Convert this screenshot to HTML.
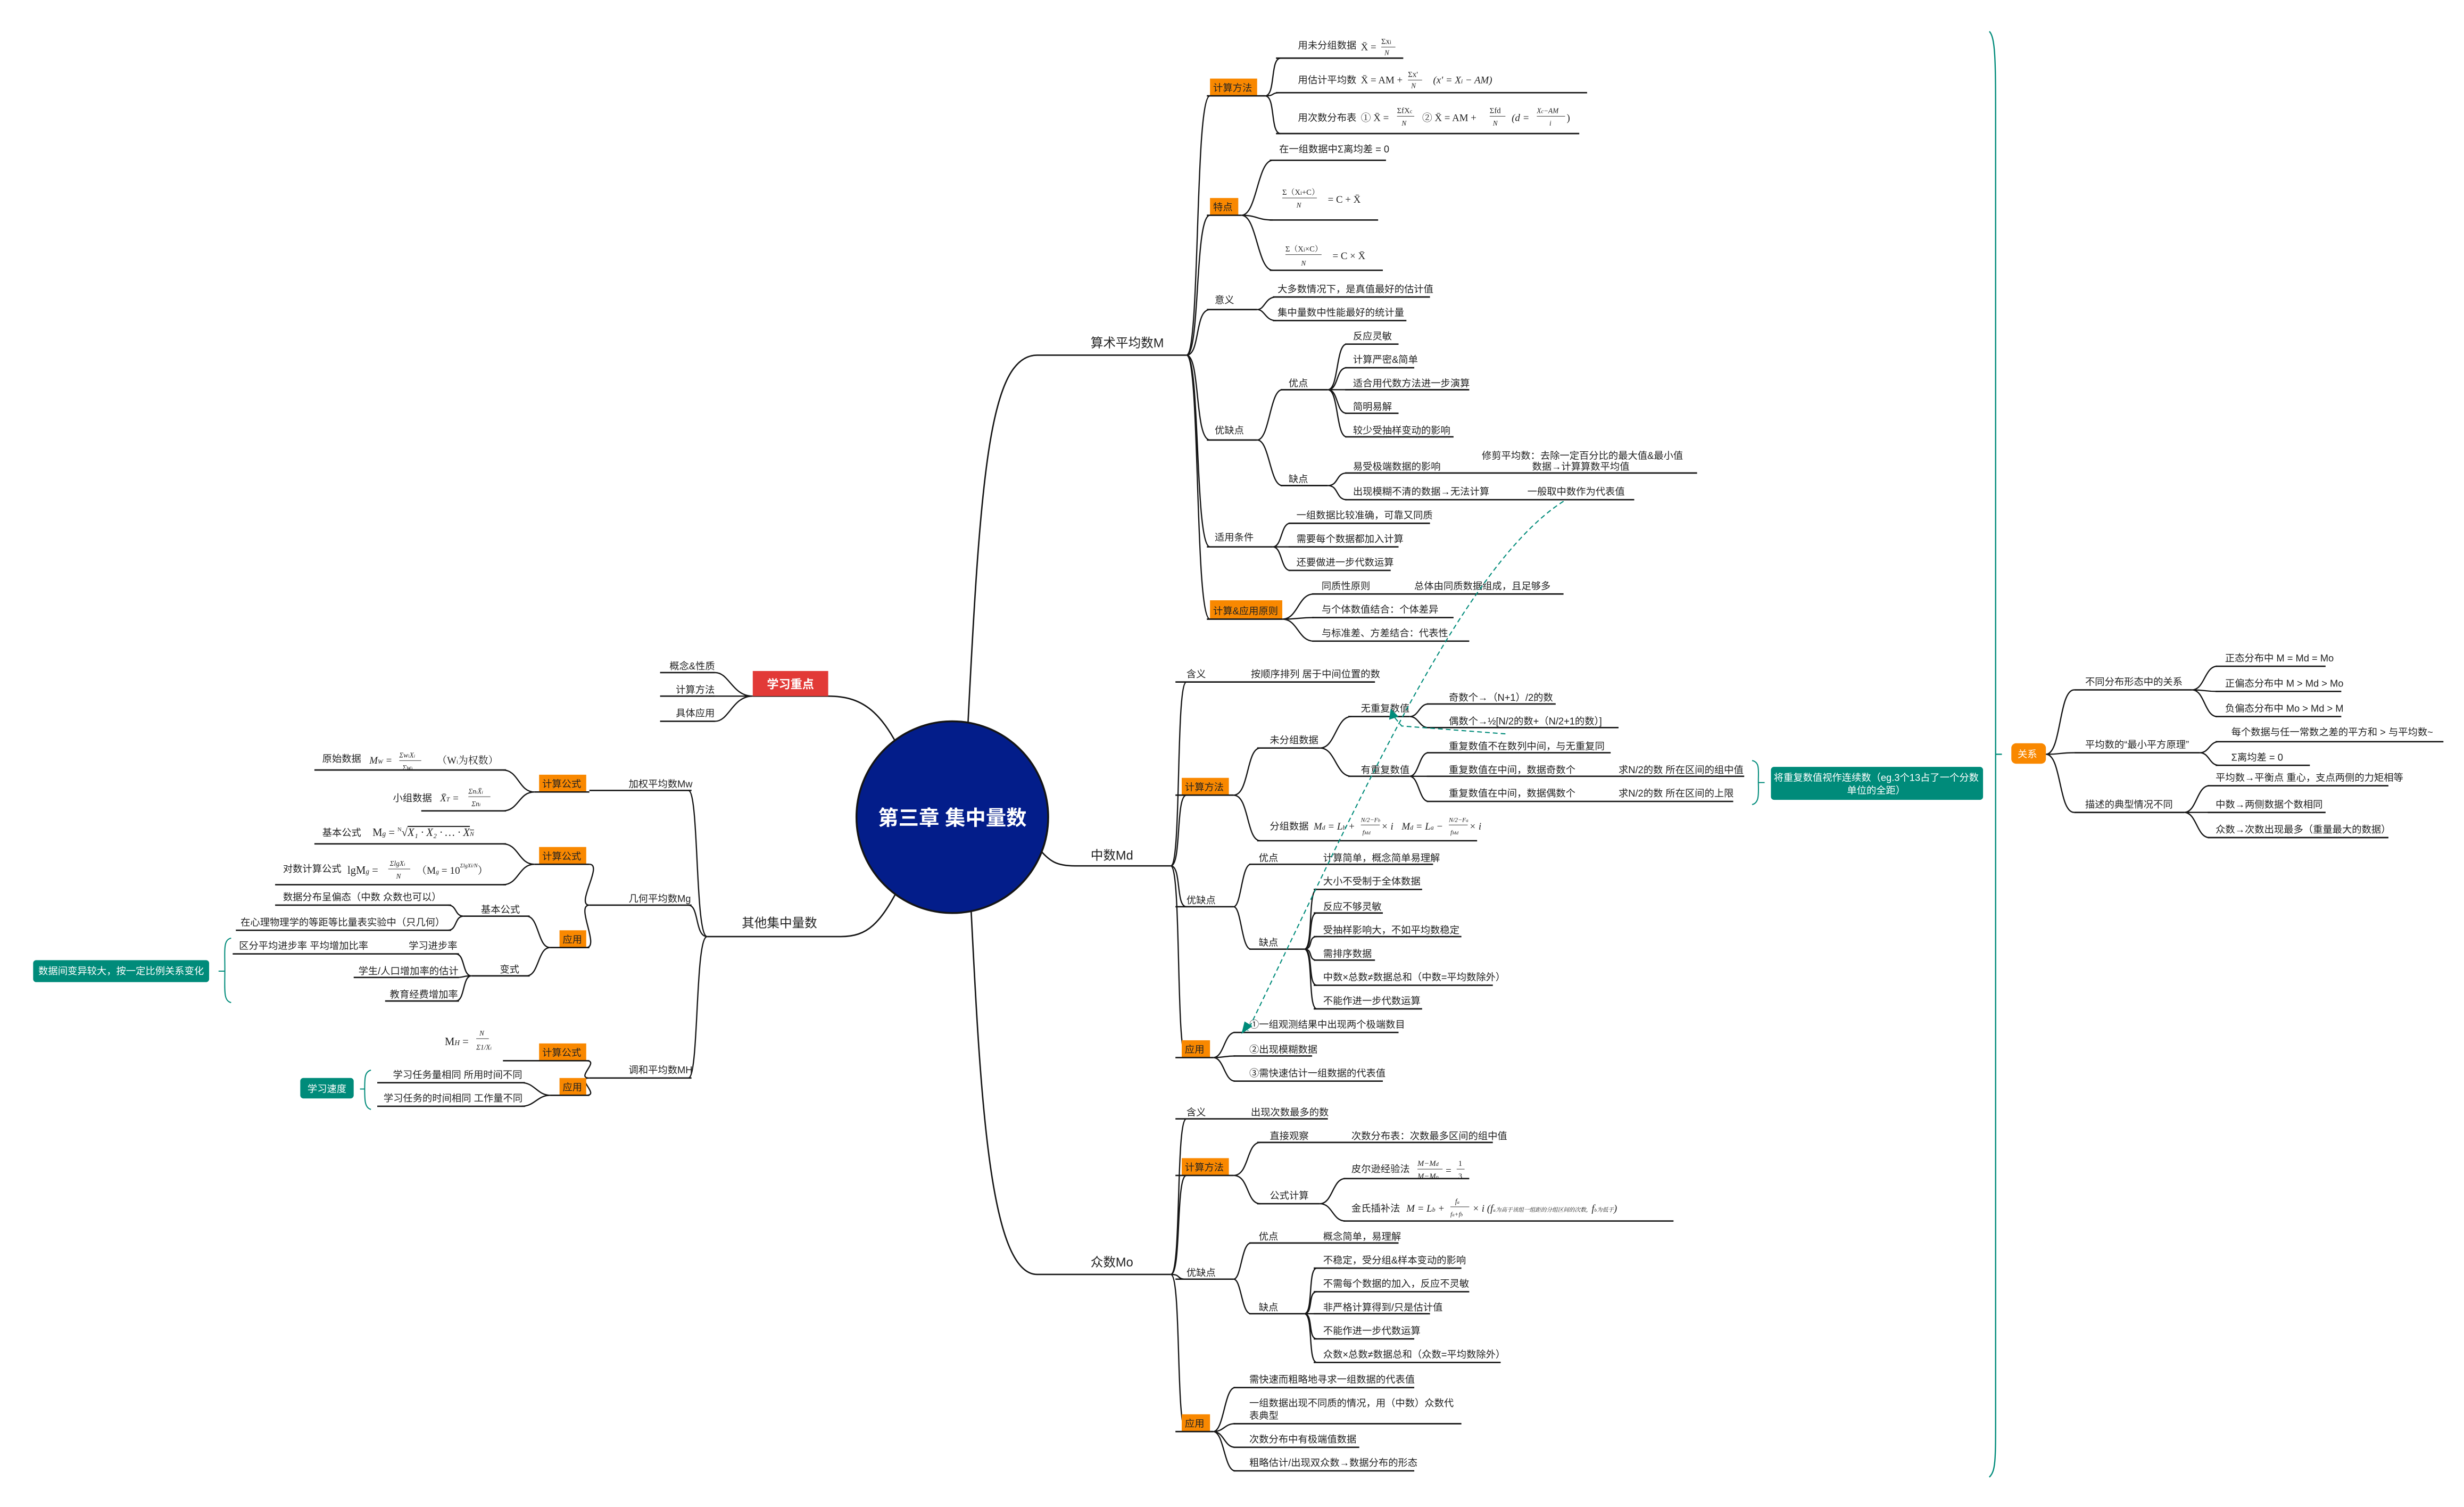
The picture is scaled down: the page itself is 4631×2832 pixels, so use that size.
<!DOCTYPE html>
<html><head><meta charset="utf-8"><style>
html,body{margin:0;padding:0;background:#fff;}
svg{display:block;}
text{font-family:"Liberation Sans","Noto Sans CJK SC",sans-serif;fill:#222;}
.t{font-size:6.2px;}
.m{font-size:8px;}
.f{font-family:"Liberation Serif","Noto Serif CJK SC",serif;font-size:6.4px;}
.l{stroke:#151515;stroke-width:0.9;fill:none;}
.c{stroke:#151515;stroke-width:0.8;fill:none;}
.w{fill:#fff;}
</style></head><body>
<svg width="4631" height="2832" viewBox="0 0 1568 959" xmlns="http://www.w3.org/2000/svg">
<rect width="1568" height="959" fill="#fff"/>

<!-- ========== main branches ========== -->
<path class="l" stroke-width="1.1" d="M616 460 C624 300,630 226,660 226 L755 226"/>
<path class="l" stroke-width="1.1" d="M661 540 C668 548,672 551,684 551 L745 551"/>
<path class="l" stroke-width="1.1" d="M618 580 C624 700,630 811,660 811 L745 811"/>
<path class="l" stroke-width="1.1" d="M573 478 C560 452,548 443,527 443 L479 443"/>
<path class="l" stroke-width="1.1" d="M573 563 C560 588,552 596,535 596 L450 596"/>
<text class="m" x="694" y="221">算术平均数M</text>
<text class="m" x="694" y="547">中数Md</text>
<text class="m" x="694" y="806">众数Mo</text>
<text class="m" x="472" y="590">其他集中量数</text>

<!-- center -->
<circle cx="606" cy="520" r="61" fill="#031d8a" stroke="#151515" stroke-width="1.2"/>
<text x="606" y="525" text-anchor="middle" style="font-size:13px;font-weight:bold;fill:#fff">第三章 集中量数</text>

<!-- ========== 算术平均数M ========== -->
<path class="c" d="M755 226 C764 226,760 61,770 61 M755 226 C764 226,760 137,770 137 M755 226 C764 226,760 197,770 197 M755 226 C764 226,760 280,770 280 M755 226 C764 226,760 348,770 348 M755 226 C764 226,760 394,770 394"/>
<rect x="770" y="50" width="30" height="11" fill="#f98800"/><text class="t" x="772" y="58">计算方法</text>
<line class="l" x1="768" y1="61" x2="805" y2="61"/>
<rect x="770" y="126" width="18" height="11" fill="#f98800"/><text class="t" x="772" y="134">特点</text>
<line class="l" x1="768" y1="137" x2="790" y2="137"/>
<text class="t" x="773" y="193">意义</text><line class="l" x1="768" y1="197" x2="800" y2="197"/>
<text class="t" x="773" y="276">优缺点</text><line class="l" x1="768" y1="280" x2="800" y2="280"/>
<text class="t" x="773" y="344">适用条件</text><line class="l" x1="768" y1="348" x2="810" y2="348"/>
<rect x="770" y="382" width="46" height="12" fill="#f98800"/><text class="t" x="772" y="391">计算&amp;应用原则</text>
<line class="l" x1="768" y1="394" x2="816" y2="394"/>

<!-- 计算方法 leaves -->
<path class="c" d="M805 61 C812 61,808 37,815 37 M805 61 C812 61,808 59,815 59 M805 61 C812 61,808 85,815 85"/>
<line class="l" x1="812" y1="37" x2="893" y2="37"/><text class="t" x="826" y="31">用未分组数据</text>
<text class="f" x="866" y="32">X̄ = </text><text class="f" x="879" y="28" style="font-size:5px">Σx<tspan style="font-size:3.5px">i</tspan></text><line x1="879" y1="30" x2="888" y2="30" stroke="#222" stroke-width="0.3"/><text class="f" x="881" y="35" style="font-size:4.5px;font-style:italic">N</text>
<line class="l" x1="812" y1="59" x2="1010" y2="59"/><text class="t" x="826" y="53">用估计平均数</text>
<text class="f" x="866" y="53">X̄ = AM + </text><text class="f" x="896" y="49" style="font-size:5px">Σx'</text><line x1="896" y1="51" x2="905" y2="51" stroke="#222" stroke-width="0.3"/><text class="f" x="898" y="56" style="font-size:4.5px;font-style:italic">N</text>
<text class="f" x="912" y="53" style="font-style:italic">(x' = X<tspan style="font-size:4px">i</tspan> − AM)</text>
<line class="l" x1="812" y1="85" x2="1005" y2="85"/><text class="t" x="826" y="77">用次数分布表</text>
<text class="f" x="866" y="77">① X̄ = </text><text class="f" x="889" y="72" style="font-size:5px">ΣfX<tspan style="font-size:3.5px">c</tspan></text><line x1="889" y1="74" x2="900" y2="74" stroke="#222" stroke-width="0.3"/><text class="f" x="892" y="80" style="font-size:4.5px;font-style:italic">N</text>
<text class="f" x="905" y="77">② X̄ = AM + </text><text class="f" x="948" y="72" style="font-size:5px">Σfd</text><line x1="948" y1="74" x2="958" y2="74" stroke="#222" stroke-width="0.3"/><text class="f" x="950" y="80" style="font-size:4.5px;font-style:italic">N</text>
<text class="f" x="962" y="77" style="font-style:italic">(d = </text><text class="f" x="978" y="72" style="font-size:4.5px;font-style:italic">X<tspan style="font-size:3.5px">c</tspan>−AM</text><line x1="978" y1="74" x2="996" y2="74" stroke="#222" stroke-width="0.3"/><text class="f" x="986" y="80" style="font-size:4.5px;font-style:italic">i</text><text class="f" x="997" y="77">)</text>

<!-- 特点 leaves -->
<path class="c" d="M790 137 C800 137,800 102,810 102 M790 137 C800 137,800 140,810 140 M790 137 C800 137,800 172,810 172"/>
<line class="l" x1="808" y1="102" x2="882" y2="102"/><text class="t" x="814" y="97">在一组数据中Σ离均差 = 0</text>
<line class="l" x1="808" y1="140" x2="877" y2="140"/>
<text class="f" x="816" y="124" style="font-size:5px">Σ（X<tspan style="font-size:3.5px">i</tspan>+C）</text><line x1="816" y1="126" x2="838" y2="126" stroke="#222" stroke-width="0.3"/><text class="f" x="825" y="132" style="font-size:4.5px;font-style:italic">N</text><text class="f" x="845" y="129">= C + X̄</text>
<line class="l" x1="808" y1="172" x2="880" y2="172"/>
<text class="f" x="818" y="160" style="font-size:5px">Σ（X<tspan style="font-size:3.5px">i</tspan>×C）</text><line x1="818" y1="162" x2="841" y2="162" stroke="#222" stroke-width="0.3"/><text class="f" x="828" y="169" style="font-size:4.5px;font-style:italic">N</text><text class="f" x="848" y="165">= C × X̄</text>

<!-- 意义 -->
<path class="c" d="M800 197 C805 197,805 189,812 189 M800 197 C805 197,805 204,812 204"/>
<line class="l" x1="810" y1="189" x2="910" y2="189"/><text class="t" x="813" y="186">大多数情况下，是真值最好的估计值</text>
<line class="l" x1="810" y1="204" x2="895" y2="204"/><text class="t" x="813" y="201">集中量数中性能最好的统计量</text>

<!-- 优缺点 -->
<path class="c" d="M800 280 C808 280,808 248,816 248 M800 280 C808 280,808 309,816 309"/>
<line class="l" x1="815" y1="248" x2="845" y2="248"/><text class="t" x="820" y="246">优点</text>
<line class="l" x1="815" y1="309" x2="845" y2="309"/><text class="t" x="820" y="307">缺点</text>
<path class="c" d="M845 248 C852 248,850 219,857 219 M845 248 C852 248,850 234,857 234 M845 248 C852 248,850 248,857 248 M845 248 C852 248,850 263,857 263 M845 248 C852 248,850 278,857 278"/>
<line class="l" x1="856" y1="219" x2="890" y2="219"/><text class="t" x="861" y="216">反应灵敏</text>
<line class="l" x1="856" y1="234" x2="900" y2="234"/><text class="t" x="861" y="231">计算严密&amp;简单</text>
<line class="l" x1="856" y1="248" x2="935" y2="248"/><text class="t" x="861" y="246">适合用代数方法进一步演算</text>
<line class="l" x1="856" y1="263" x2="890" y2="263"/><text class="t" x="861" y="261">简明易解</text>
<line class="l" x1="856" y1="278" x2="925" y2="278"/><text class="t" x="861" y="276">较少受抽样变动的影响</text>
<path class="c" d="M845 309 C852 309,850 301,857 301 M845 309 C852 309,850 318,857 318"/>
<line class="l" x1="856" y1="301" x2="1080" y2="301"/><text class="t" x="861" y="299">易受极端数据的影响</text>
<text class="t" x="943" y="292">修剪平均数：去除一定百分比的最大值&amp;最小值</text>
<text class="t" x="975" y="299">数据→计算算数平均值</text>
<line class="l" x1="856" y1="318" x2="1040" y2="318"/><text class="t" x="861" y="315">出现模糊不清的数据→无法计算</text>
<text class="t" x="972" y="315">一般取中数作为代表值</text>

<!-- 适用条件 -->
<path class="c" d="M810 348 C816 348,815 333,821 333 M810 348 C816 348,815 348,821 348 M810 348 C816 348,815 363,821 363"/>
<line class="l" x1="820" y1="333" x2="910" y2="333"/><text class="t" x="825" y="330">一组数据比较准确，可靠又同质</text>
<line class="l" x1="820" y1="348" x2="890" y2="348"/><text class="t" x="825" y="345">需要每个数据都加入计算</text>
<line class="l" x1="820" y1="363" x2="885" y2="363"/><text class="t" x="825" y="360">还要做进一步代数运算</text>

<!-- 计算&应用原则 -->
<path class="c" d="M816 394 C826 394,826 378,836 378 M816 394 C826 394,826 393,836 393 M816 394 C826 394,826 408,836 408"/>
<line class="l" x1="835" y1="378" x2="995" y2="378"/><text class="t" x="841" y="375">同质性原则</text><text class="t" x="900" y="375">总体由同质数据组成，且足够多</text>
<line class="l" x1="835" y1="393" x2="925" y2="393"/><text class="t" x="841" y="390">与个体数值结合：个体差异</text>
<line class="l" x1="835" y1="408" x2="935" y2="408"/><text class="t" x="841" y="405">与标准差、方差结合：代表性</text>

<!-- ========== 中数Md ========== -->
<path class="c" d="M745 551 C752 551,748 434,755 434 M745 551 C752 551,748 506,755 506 M745 551 C752 551,748 577,755 577 M745 551 C752 551,748 673,755 673"/>
<line class="l" x1="748" y1="434" x2="875" y2="434"/><text class="t" x="755" y="431">含义</text><text class="t" x="796" y="431">按顺序排列 居于中间位置的数</text>
<rect x="752" y="495" width="30" height="11" fill="#f98800"/><text class="t" x="754" y="503">计算方法</text>
<line class="l" x1="748" y1="506" x2="785" y2="506"/>
<line class="l" x1="748" y1="577" x2="785" y2="577"/><text class="t" x="755" y="575">优缺点</text>
<rect x="752" y="662" width="18" height="11" fill="#f98800"/><text class="t" x="754" y="670">应用</text>
<line class="l" x1="748" y1="673" x2="772" y2="673"/>

<path class="c" d="M785 506 C795 506,793 476,802 476 M785 506 C795 506,793 535,802 535"/>
<line class="l" x1="800" y1="476" x2="840" y2="476"/><text class="t" x="808" y="473">未分组数据</text>
<line class="l" x1="800" y1="535" x2="940" y2="535"/><text class="t" x="808" y="528">分组数据</text>
<text class="f" x="836" y="528" style="font-style:italic">M<tspan style="font-size:4px">d</tspan> = L<tspan style="font-size:4px">b</tspan> + </text>
<text class="f" x="866" y="523" style="font-size:4px;font-style:italic">N/2−F<tspan style="font-size:3px">b</tspan></text><line x1="866" y1="525" x2="878" y2="525" stroke="#222" stroke-width="0.3"/><text class="f" x="867" y="531" style="font-size:4px;font-style:italic">f<tspan style="font-size:3px">Md</tspan></text><text class="f" x="879" y="528" style="font-style:italic">× i</text>
<text class="f" x="892" y="528" style="font-style:italic">M<tspan style="font-size:4px">d</tspan> = L<tspan style="font-size:4px">a</tspan> − </text>
<text class="f" x="922" y="523" style="font-size:4px;font-style:italic">N/2−F<tspan style="font-size:3px">a</tspan></text><line x1="922" y1="525" x2="934" y2="525" stroke="#222" stroke-width="0.3"/><text class="f" x="923" y="531" style="font-size:4px;font-style:italic">f<tspan style="font-size:3px">Md</tspan></text><text class="f" x="935" y="528" style="font-style:italic">× i</text>

<path class="c" d="M840 476 C850 476,850 456,860 456 M840 476 C850 476,850 494,860 494"/>
<line class="l" x1="858" y1="456" x2="897" y2="456"/><text class="t" x="866" y="453">无重复数值</text>
<line class="l" x1="858" y1="494" x2="897" y2="494"/><text class="t" x="866" y="492">有重复数值</text>
<path class="c" d="M897 456 C903 456,903 448,909 448 M897 456 C903 456,903 463,909 463"/>
<line class="l" x1="908" y1="448" x2="990" y2="448"/><text class="t" x="922" y="446">奇数个→（N+1）/2的数</text>
<line class="l" x1="908" y1="463" x2="1030" y2="463"/><text class="t" x="922" y="461">偶数个→½[N/2的数+（N/2+1的数）]</text>
<path class="c" d="M897 494 C903 494,903 479,909 479 M897 494 C903 494,903 494,909 494 M897 494 C903 494,903 510,909 510"/>
<line class="l" x1="908" y1="479" x2="1025" y2="479"/><text class="t" x="922" y="477">重复数值不在数列中间，与无重复同</text>
<line class="l" x1="908" y1="494" x2="1110" y2="494"/><text class="t" x="922" y="492">重复数值在中间，数据奇数个</text><text class="t" x="1030" y="492">求N/2的数 所在区间的组中值</text>
<line class="l" x1="908" y1="510" x2="1103" y2="510"/><text class="t" x="922" y="507">重复数值在中间，数据偶数个</text><text class="t" x="1030" y="507">求N/2的数 所在区间的上限</text>
<path d="M1115 484 C1120 485,1119 490,1119 497 C1119 504,1120 511,1115 512 M1119 498 L1123 498" stroke="#008b7a" stroke-width="0.7" fill="none"/>
<rect x="1127" y="488" width="135" height="21" rx="2" fill="#008b7a"/>
<text class="t w" x="1194" y="497" text-anchor="middle">将重复数值视作连续数（eg.3个13占了一个分数</text>
<text class="t w" x="1194" y="505" text-anchor="middle">单位的全距）</text>

<path class="c" d="M785 577 C790 577,790 550,796 550 M785 577 C790 577,790 604,796 604"/>
<line class="l" x1="795" y1="550" x2="912" y2="550"/><text class="t" x="801" y="548">优点</text><text class="t" x="842" y="548">计算简单，概念简单易理解</text>
<line class="l" x1="795" y1="604" x2="830" y2="604"/><text class="t" x="801" y="602">缺点</text>
<path class="c" d="M830 604 C836 604,832 566,838 566 M830 604 C836 604,832 581,838 581 M830 604 C836 604,832 596,838 596 M830 604 C836 604,832 611,838 611 M830 604 C836 604,832 627,838 627 M830 604 C836 604,832 642,838 642"/>
<line class="l" x1="836" y1="566" x2="905" y2="566"/><text class="t" x="842" y="563">大小不受制于全体数据</text>
<line class="l" x1="836" y1="581" x2="880" y2="581"/><text class="t" x="842" y="579">反应不够灵敏</text>
<line class="l" x1="836" y1="596" x2="930" y2="596"/><text class="t" x="842" y="594">受抽样影响大，不如平均数稳定</text>
<line class="l" x1="836" y1="611" x2="875" y2="611"/><text class="t" x="842" y="609">需排序数据</text>
<line class="l" x1="836" y1="627" x2="950" y2="627"/><text class="t" x="842" y="624">中数×总数≠数据总和（中数=平均数除外）</text>
<line class="l" x1="836" y1="642" x2="905" y2="642"/><text class="t" x="842" y="639">不能作进一步代数运算</text>

<path class="c" d="M772 673 C779 673,779 657,786 657 M772 673 C779 673,779 672,786 672 M772 673 C779 673,779 688,786 688"/>
<line class="l" x1="785" y1="657" x2="890" y2="657"/><text class="t" x="795" y="654">①一组观测结果中出现两个极端数目</text>
<line class="l" x1="785" y1="672" x2="835" y2="672"/><text class="t" x="795" y="670">②出现模糊数据</text>
<line class="l" x1="785" y1="688" x2="880" y2="688"/><text class="t" x="795" y="685">③需快速估计一组数据的代表值</text>

<!-- dashed teal arrows -->
<path d="M995 319 C930 360,860 520,794 656" stroke="#008b7a" stroke-width="0.7" stroke-dasharray="3,2" fill="none"/>
<path d="M790 658 L792 650 L797 653 Z" fill="#008b7a"/>
<path d="M958 467 L892 462 L887 456" stroke="#008b7a" stroke-width="0.7" stroke-dasharray="3,2" fill="none"/>
<path d="M885 451 L884 458 L890 456 Z" fill="#008b7a"/>

<!-- ========== 众数Mo ========== -->
<path class="c" d="M745 811 C752 811,748 712,755 712 M745 811 C752 811,748 748,755 748 M745 811 C752 811,748 814,755 814 M745 811 C752 811,748 911,755 911"/>
<line class="l" x1="748" y1="712" x2="845" y2="712"/><text class="t" x="755" y="710">含义</text><text class="t" x="796" y="710">出现次数最多的数</text>
<rect x="752" y="737" width="30" height="11" fill="#f98800"/><text class="t" x="754" y="745">计算方法</text>
<line class="l" x1="748" y1="748" x2="785" y2="748"/>
<line class="l" x1="748" y1="814" x2="785" y2="814"/><text class="t" x="755" y="812">优缺点</text>
<rect x="752" y="900" width="18" height="11" fill="#f98800"/><text class="t" x="754" y="908">应用</text>
<line class="l" x1="748" y1="911" x2="772" y2="911"/>

<path class="c" d="M785 748 C795 748,793 727,802 727 M785 748 C795 748,793 766,802 766"/>
<line class="l" x1="800" y1="727" x2="950" y2="727"/><text class="t" x="808" y="725">直接观察</text><text class="t" x="860" y="725">次数分布表：次数最多区间的组中值</text>
<line class="l" x1="800" y1="766" x2="840" y2="766"/><text class="t" x="808" y="763">公式计算</text>
<path class="c" d="M840 766 C848 766,848 750,856 750 M840 766 C848 766,848 777,856 777"/>
<line class="l" x1="855" y1="750" x2="935" y2="750"/><text class="t" x="860" y="746">皮尔逊经验法</text>
<text class="f" x="902" y="742" style="font-size:5px;font-style:italic">M−M<tspan style="font-size:3.5px">d</tspan></text><line x1="902" y1="744" x2="918" y2="744" stroke="#222" stroke-width="0.3"/><text class="f" x="902" y="750" style="font-size:5px;font-style:italic">M−M<tspan style="font-size:3.5px">o</tspan></text><text class="f" x="920" y="747">= </text><text class="f" x="928" y="742" style="font-size:5px">1</text><line x1="927" y1="744" x2="932" y2="744" stroke="#222" stroke-width="0.3"/><text class="f" x="928" y="750" style="font-size:5px">3</text>
<line class="l" x1="855" y1="777" x2="1065" y2="777"/><text class="t" x="860" y="771">金氏插补法</text>
<text class="f" x="895" y="771" style="font-style:italic">M = L<tspan style="font-size:4px">b</tspan> + </text><text class="f" x="926" y="766" style="font-size:4.5px;font-style:italic">f<tspan style="font-size:3px">a</tspan></text><line x1="923" y1="768" x2="935" y2="768" stroke="#222" stroke-width="0.3"/><text class="f" x="923" y="774" style="font-size:4px;font-style:italic">f<tspan style="font-size:3px">a</tspan>+f<tspan style="font-size:3px">b</tspan></text>
<text class="f" x="937" y="771" style="font-style:italic">× i (f<tspan style="font-size:3px">a</tspan><tspan style="font-size:3.6px">为高于该组一组距的分组区间的次数，</tspan>f<tspan style="font-size:3px">b</tspan><tspan style="font-size:3.6px">为低于</tspan>)</text>

<path class="c" d="M785 814 C790 814,790 791,796 791 M785 814 C790 814,790 836,796 836"/>
<line class="l" x1="795" y1="791" x2="890" y2="791"/><text class="t" x="801" y="789">优点</text><text class="t" x="842" y="789">概念简单，易理解</text>
<line class="l" x1="795" y1="836" x2="830" y2="836"/><text class="t" x="801" y="834">缺点</text>
<path class="c" d="M830 836 C836 836,832 807,838 807 M830 836 C836 836,832 822,838 822 M830 836 C836 836,832 836,838 836 M830 836 C836 836,832 852,838 852 M830 836 C836 836,832 867,838 867"/>
<line class="l" x1="836" y1="807" x2="930" y2="807"/><text class="t" x="842" y="804">不稳定，受分组&amp;样本变动的影响</text>
<line class="l" x1="836" y1="822" x2="935" y2="822"/><text class="t" x="842" y="819">不需每个数据的加入，反应不灵敏</text>
<line class="l" x1="836" y1="836" x2="910" y2="836"/><text class="t" x="842" y="834">非严格计算得到/只是估计值</text>
<line class="l" x1="836" y1="852" x2="900" y2="852"/><text class="t" x="842" y="849">不能作进一步代数运算</text>
<line class="l" x1="836" y1="867" x2="955" y2="867"/><text class="t" x="842" y="864">众数×总数≠数据总和（众数=平均数除外）</text>

<path class="c" d="M772 911 C779 911,779 883,786 883 M772 911 C779 911,779 906,786 906 M772 911 C779 911,779 921,786 921 M772 911 C779 911,779 936,786 936"/>
<line class="l" x1="785" y1="883" x2="900" y2="883"/><text class="t" x="795" y="880">需快速而粗略地寻求一组数据的代表值</text>
<line class="l" x1="785" y1="906" x2="930" y2="906"/><text class="t" x="795" y="895">一组数据出现不同质的情况，用（中数）众数代</text><text class="t" x="795" y="903">表典型</text>
<line class="l" x1="785" y1="921" x2="865" y2="921"/><text class="t" x="795" y="918">次数分布中有极端值数据</text>
<line class="l" x1="785" y1="936" x2="900" y2="936"/><text class="t" x="795" y="933">粗略估计/出现双众数→数据分布的形态</text>

<!-- ========== 关系 (right) ========== -->
<path d="M1266 20 C1270 24,1270 40,1270 80 L1270 900 C1270 930,1270 936,1266 940 M1270 480 L1274 480" stroke="#008b7a" stroke-width="0.8" fill="none"/>
<rect x="1280" y="473" width="22" height="13" rx="3" fill="#f98800"/><text class="t w" x="1284" y="482">关系</text>
<path class="c" d="M1302 480 C1312 480,1310 439,1320 439 M1302 480 C1312 480,1310 479,1320 479 M1302 480 C1312 480,1310 517,1320 517"/>
<line class="l" x1="1320" y1="439" x2="1395" y2="439"/><text class="t" x="1327" y="436">不同分布形态中的关系</text>
<line class="l" x1="1320" y1="479" x2="1400" y2="479"/><text class="t" x="1327" y="476">平均数的“最小平方原理”</text>
<line class="l" x1="1320" y1="517" x2="1390" y2="517"/><text class="t" x="1327" y="514">描述的典型情况不同</text>
<path class="c" d="M1395 439 C1403 439,1403 424,1411 424 M1395 439 C1403 439,1403 440,1411 440 M1395 439 C1403 439,1403 456,1411 456"/>
<line class="l" x1="1410" y1="424" x2="1480" y2="424"/><text class="t" x="1416" y="421">正态分布中 M = Md = Mo</text>
<line class="l" x1="1410" y1="440" x2="1490" y2="440"/><text class="t" x="1416" y="437">正偏态分布中 M &gt; Md &gt; Mo</text>
<line class="l" x1="1410" y1="456" x2="1490" y2="456"/><text class="t" x="1416" y="453">负偏态分布中 Mo &gt; Md &gt; M</text>
<path class="c" d="M1400 479 C1406 479,1406 472,1412 472 M1400 479 C1406 479,1406 487,1412 487"/>
<line class="l" x1="1410" y1="472" x2="1555" y2="472"/><text class="t" x="1420" y="468">每个数据与任一常数之差的平方和 &gt; 与平均数~</text>
<line class="l" x1="1410" y1="487" x2="1470" y2="487"/><text class="t" x="1420" y="484">Σ离均差 = 0</text>
<path class="c" d="M1390 517 C1398 517,1398 500,1406 500 M1390 517 C1398 517,1398 517,1406 517 M1390 517 C1398 517,1398 533,1406 533"/>
<line class="l" x1="1405" y1="500" x2="1520" y2="500"/><text class="t" x="1410" y="497">平均数→平衡点 重心，支点两侧的力矩相等</text>
<line class="l" x1="1405" y1="517" x2="1480" y2="517"/><text class="t" x="1410" y="514">中数→两侧数据个数相同</text>
<line class="l" x1="1405" y1="533" x2="1520" y2="533"/><text class="t" x="1410" y="530">众数→次数出现最多（重量最大的数据）</text>

<!-- ========== 学习重点 (left top) ========== -->
<rect x="479" y="427" width="48" height="16" fill="#e23a37"/>
<text x="503" y="438" text-anchor="middle" style="font-size:7.5px;font-weight:bold;fill:#fff">学习重点</text>
<path class="c" d="M479 443 C466 443,464 428,455 428 M479 443 L455 443 M479 443 C466 443,464 459,455 459"/>
<line class="l" x1="420" y1="428" x2="455" y2="428"/><text class="t" x="426" y="426">概念&amp;性质</text>
<line class="l" x1="420" y1="443" x2="455" y2="443"/><text class="t" x="430" y="441">计算方法</text>
<line class="l" x1="420" y1="459" x2="455" y2="459"/><text class="t" x="430" y="456">具体应用</text>

<!-- ========== 其他集中量数 ========== -->
<path class="c" d="M450 596 C442 596,445 503,438 503 M450 596 C442 596,445 576,438 576 M450 596 C442 596,445 686,438 686"/>
<line class="l" x1="375" y1="503" x2="440" y2="503"/><text class="t" x="400" y="501">加权平均数Mw</text>
<line class="l" x1="375" y1="576" x2="440" y2="576"/><text class="t" x="400" y="574">几何平均数Mg</text>
<line class="l" x1="375" y1="686" x2="440" y2="686"/><text class="t" x="400" y="683">调和平均数MH</text>

<!-- 加权 -->
<rect x="343" y="493" width="30" height="11" fill="#f98800"/><text class="t" x="345" y="501">计算公式</text>
<line class="l" x1="340" y1="504" x2="375" y2="504"/>
<path class="c" d="M340 504 C330 504,330 490,320 490 M340 504 C330 504,330 516,320 516"/>
<line class="l" x1="200" y1="490" x2="322" y2="490"/><text class="t" x="205" y="485">原始数据</text>
<text class="f" x="235" y="486" style="font-style:italic">M<tspan style="font-size:4px">W</tspan> = </text><text class="f" x="254" y="482" style="font-size:4.5px;font-style:italic">Σw<tspan style="font-size:3px">i</tspan>X<tspan style="font-size:3px">i</tspan></text><line x1="254" y1="484" x2="268" y2="484" stroke="#222" stroke-width="0.3"/><text class="f" x="256" y="490" style="font-size:4.5px;font-style:italic">Σw<tspan style="font-size:3px">i</tspan></text>
<text class="f" x="278" y="486">（W<tspan style="font-size:3.5px">i</tspan>为权数）</text>
<line class="l" x1="268" y1="516" x2="322" y2="516"/><text class="t" x="250" y="510">小组数据</text>
<text class="f" x="280" y="510" style="font-style:italic">X̄<tspan style="font-size:4px">T</tspan> = </text><text class="f" x="298" y="505" style="font-size:4.5px;font-style:italic">Σn<tspan style="font-size:3px">i</tspan>X̄<tspan style="font-size:3px">i</tspan></text><line x1="298" y1="507" x2="312" y2="507" stroke="#222" stroke-width="0.3"/><text class="f" x="300" y="513" style="font-size:4.5px;font-style:italic">Σn<tspan style="font-size:3px">i</tspan></text>

<!-- 几何 -->
<path class="c" d="M375 576 C366 576,384 550,375 550 M375 576 C366 576,382 603,373 603"/>
<rect x="343" y="539" width="30" height="11" fill="#f98800"/><text class="t" x="345" y="547">计算公式</text>
<line class="l" x1="340" y1="550" x2="375" y2="550"/>
<rect x="356" y="592" width="17" height="11" fill="#f98800"/><text class="t" x="358" y="600">应用</text>
<line class="l" x1="350" y1="603" x2="375" y2="603"/>
<path class="c" d="M340 550 C330 550,330 537,320 537 M340 550 C330 550,330 563,320 563"/>
<line class="l" x1="200" y1="537" x2="322" y2="537"/><text class="t" x="205" y="532">基本公式</text>
<text class="f" x="237" y="532" style="font-size:7px">M<tspan style="font-size:4.5px;font-style:italic">g</tspan> = <tspan style="font-size:3.5px" dy="-3">N</tspan><tspan dy="3">√</tspan><tspan style="text-decoration:overline;font-style:italic">X₁ · X₂ · … · X<tspan style="font-size:4px">N</tspan></tspan></text>
<line class="l" x1="175" y1="563" x2="322" y2="563"/><text class="t" x="180" y="555">对数计算公式</text>
<text class="f" x="221" y="556" style="font-size:7px">lgM<tspan style="font-size:4.5px;font-style:italic">g</tspan> = </text>
<text class="f" x="248" y="551" style="font-size:4.5px;font-style:italic">ΣlgX<tspan style="font-size:3px">i</tspan></text><line x1="247" y1="553" x2="261" y2="553" stroke="#222" stroke-width="0.3"/><text class="f" x="252" y="559" style="font-size:4.5px;font-style:italic">N</text>
<text class="f" x="265" y="556" style="font-size:6.5px">（M<tspan style="font-size:4px;font-style:italic">g</tspan> = 10<tspan style="font-size:3.5px;font-style:italic" dy="-4">ΣlgXi/N</tspan><tspan dy="4">）</tspan></text>

<path class="c" d="M350 603 C342 603,343 583,335 583 M350 603 C342 603,343 621,335 621"/>
<line class="l" x1="295" y1="583" x2="337" y2="583"/><text class="t" x="306" y="581">基本公式</text>
<line class="l" x1="300" y1="621" x2="337" y2="621"/><text class="t" x="318" y="619">变式</text>
<path class="c" d="M295 583 C289 583,291 576,285 576 M295 583 C289 583,291 592,285 592"/>
<line class="l" x1="175" y1="576" x2="287" y2="576"/><text class="t" x="180" y="573">数据分布呈偏态（中数 众数也可以）</text>
<line class="l" x1="150" y1="592" x2="287" y2="592"/><text class="t" x="153" y="589">在心理物理学的等距等比量表实验中（只几何）</text>
<path class="c" d="M300 621 C294 621,296 607,290 607 M300 621 C294 621,296 622,290 622 M300 621 C294 621,296 637,290 637"/>
<line class="l" x1="148" y1="607" x2="292" y2="607"/><text class="t" x="152" y="604">区分平均进步率 平均增加比率</text><text class="t" x="260" y="604">学习进步率</text>
<line class="l" x1="225" y1="622" x2="292" y2="622"/><text class="t" x="228" y="620">学生/人口增加率的估计</text>
<line class="l" x1="245" y1="637" x2="292" y2="637"/><text class="t" x="248" y="635">教育经费增加率</text>
<path d="M147 597 C142 598,143 604,143 617 C143 630,142 637,147 638 M143 618 L139 618" stroke="#008b7a" stroke-width="0.7" fill="none"/>
<rect x="21" y="611" width="112" height="14" rx="2" fill="#008b7a"/>
<text class="t w" x="77" y="620" text-anchor="middle">数据间变异较大，按一定比例关系变化</text>

<!-- 调和 -->
<path class="c" d="M375 686 C366 686,382 675,373 675 M375 686 C366 686,382 697,373 697"/>
<rect x="343" y="664" width="30" height="11" fill="#f98800"/><text class="t" x="345" y="672">计算公式</text>
<line class="l" x1="320" y1="675" x2="375" y2="675"/>
<text class="f" x="283" y="665" style="font-size:7px">M<tspan style="font-size:4.5px;font-style:italic">H</tspan> = </text>
<text class="f" x="305" y="659" style="font-size:4.5px;font-style:italic">N</text><line x1="303" y1="661" x2="311" y2="661" stroke="#222" stroke-width="0.3"/><text class="f" x="303" y="668" style="font-size:4.5px;font-style:italic">Σ1/X<tspan style="font-size:3px">i</tspan></text>
<rect x="356" y="686" width="17" height="11" fill="#f98800"/><text class="t" x="358" y="694">应用</text>
<line class="l" x1="350" y1="697" x2="375" y2="697"/>
<path class="c" d="M350 697 C342 697,340 689,332 689 M350 697 C342 697,340 704,332 704"/>
<line class="l" x1="240" y1="689" x2="334" y2="689"/><text class="t" x="250" y="686">学习任务量相同 所用时间不同</text>
<line class="l" x1="240" y1="704" x2="334" y2="704"/><text class="t" x="244" y="701">学习任务的时间相同 工作量不同</text>
<path d="M236 681 C232 682,232 686,232 693 C232 700,232 705,236 706 M232 693 L229 693" stroke="#008b7a" stroke-width="0.7" fill="none"/>
<rect x="191" y="686" width="34" height="13" rx="2" fill="#008b7a"/>
<text class="t w" x="208" y="695" text-anchor="middle">学习速度</text>
</svg>
</body></html>
